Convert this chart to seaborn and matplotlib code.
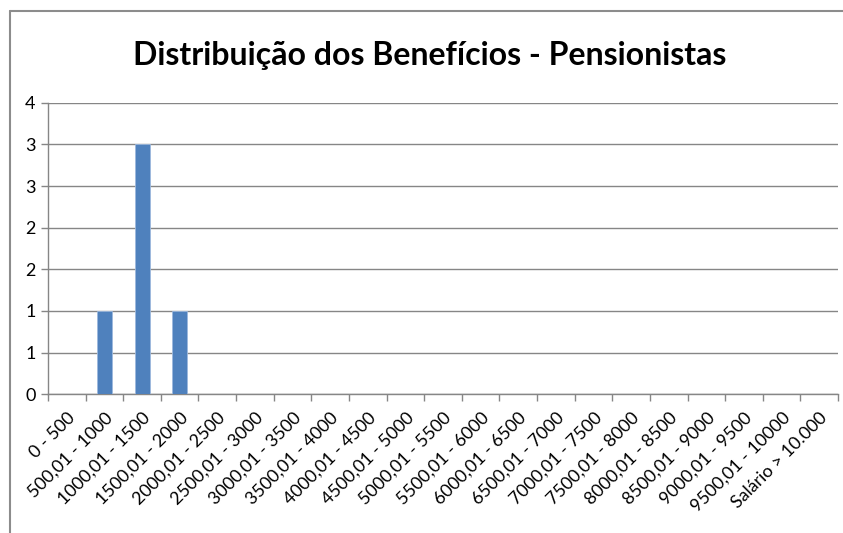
import numpy as np
import pandas as pd
import matplotlib.pyplot as plt
import matplotlib.lines as mlines
from matplotlib.ticker import FuncFormatter, MultipleLocator
import seaborn as sns

# faixas de benefício e quantidade de pensionistas
faixas = ['0 - 500', '500,01 - 1000', '1000,01 - 1500', '1500,01 - 2000',
          '2000,01 - 2500', '2500,01 - 3000', '3000,01 - 3500', '3500,01 - 4000',
          '4000,01 - 4500', '4500,01 - 5000', '5000,01 - 5500', '5500,01 - 6000',
          '6000,01 - 6500', '6500,01 - 7000', '7000,01 - 7500', '7500,01 - 8000',
          '8000,01 - 8500', '8500,01 - 9000', '9000,01 - 9500', '9500,01 - 10000',
          'Salário > 10.000']
quantidade = [0, 1, 3, 1, 0, 0, 0, 0, 0, 0, 0, 0, 0, 0, 0, 0, 0, 0, 0, 0, 0]

sns.set_theme(style="white")
plt.rcParams['font.family'] = ['Lato', 'DejaVu Sans']

df = pd.DataFrame({'faixa': faixas, 'qtd': quantidade})

fig = plt.figure(figsize=(8.43, 5.33), dpi=100)
ax = fig.add_axes([48 / 843, 1 - 394.3 / 533, 790 / 843, (394.3 - 102.7) / 533])

sns.barplot(data=df, x='faixa', y='qtd', color='#4F81BD', width=0.4,
            edgecolor='#9DB9DE', linewidth=0.6, saturation=1, ax=ax, zorder=3)

ax.set_xlim(-0.5, len(faixas) - 0.5)
ax.set_ylim(0, 3.5)
ax.yaxis.set_major_locator(MultipleLocator(0.5))
ax.yaxis.set_major_formatter(FuncFormatter(lambda v, p: f'{int(np.floor(v + 0.5))}'))
ax.grid(axis='y', color='#868686', linewidth=1, zorder=0)
ax.set_axisbelow(True)

for s in ['top', 'right']:
    ax.spines[s].set_visible(False)
for s in ['left', 'bottom']:
    ax.spines[s].set_color('#868686')
    ax.spines[s].set_linewidth(1)

ax.set_xticks(np.arange(-0.5, len(faixas), 1), minor=True)
ax.tick_params(axis='x', which='minor', length=5, color='#868686', width=1, bottom=True)
ax.tick_params(axis='x', which='major', length=0, pad=11, labelsize=12.8, labelcolor='black')
ax.tick_params(axis='y', length=5, color='#868686', width=1, left=True,
               labelsize=13, labelcolor='black', pad=4)
plt.setp(ax.get_xticklabels(), rotation=45, ha='right', rotation_mode='anchor')

ax.set_xlabel('')
ax.set_ylabel('')

fig.text(0.51, 1 - 56 / 533, 'Distribuição dos Benefícios - Pensionistas',
         ha='center', va='center', fontsize=23, fontweight='bold', color='black')

# moldura do gráfico
fig.add_artist(mlines.Line2D([10 / 843, 10 / 843], [0, 1 - 11 / 533],
                             color='#8C8C8C', linewidth=1.5))
fig.add_artist(mlines.Line2D([10 / 843, 1], [1 - 11 / 533, 1 - 11 / 533],
                             color='#8C8C8C', linewidth=1.5))

fig.savefig('out.png', dpi=100)
